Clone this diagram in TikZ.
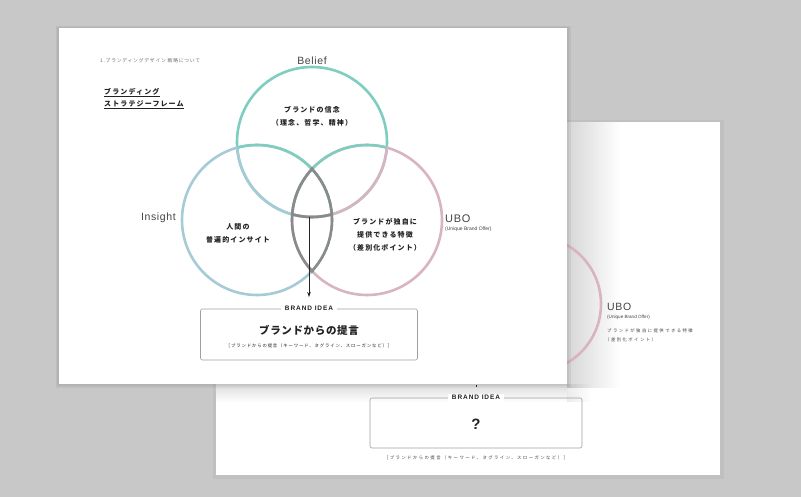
\documentclass[tikz,border=0pt]{standalone}
\usepackage{fontspec}
\setmainfont{Liberation Sans}
\newfontfamily\jpn[LetterSpace=16]{Noto Sans CJK JP}
\newfontfamily\jpt[LetterSpace=6]{Noto Sans CJK JP}
\newfontfamily\jpc[LetterSpace=19]{Noto Sans CJK JP}
\newfontfamily\jpx[LetterSpace=32]{Noto Sans CJK JP}
\newfontfamily\jph[LetterSpace=16]{Noto Sans CJK JP}
\newfontfamily\latsp[LetterSpace=14]{Liberation Sans}
\newfontfamily\latw[LetterSpace=6]{Liberation Sans}
\usetikzlibrary{arrows.meta,fadings}
\tikzfading[name=fadeoutright, left color=transparent!0, right color=transparent!100]
\definecolor{bgc}{HTML}{C8C8C8}
\definecolor{tealc}{HTML}{7FCDBF}
\definecolor{bluec}{HTML}{A6CBD6}
\definecolor{pinkc}{HTML}{D8B4C2}
\definecolor{lensc}{HTML}{8A8A8A}
\definecolor{txt}{HTML}{222222}
\definecolor{lab}{HTML}{444444}
\tikzset{
  ring/.style={line width=2.6pt},
  jlab/.style={inner sep=0pt, text=txt, font=\jpn\bfseries\fontsize{7}{8}\selectfont},
  latlab/.style={inner sep=0pt, text=lab, font=\latw\fontsize{10.5}{12}\selectfont},
  smalllat/.style={inner sep=0pt, text=lab, font=\fontsize{5}{6}\selectfont},
  ideabox/.style={draw=gray!75, line width=0.6pt, rounded corners=2pt, inner sep=0pt},
  idealabel/.style={fill=white, inner xsep=4pt, inner ysep=1pt, text=txt, font=\latsp\bfseries\fontsize{6.5}{7}\selectfont},
  caption/.style={inner sep=0pt, text=txt, font=\jpc\fontsize{4.4}{5}\selectfont},
}
\begin{document}
\begin{tikzpicture}[x=1pt,y=-1pt]
\useasboundingbox (0,0) rectangle (801,497);
\fill[bgc] (0,0) rectangle (801,497);
% ---------- back page ----------
\fill[black,opacity=0.04] (213,120) rectangle (724,479);
\fill[white] (216,122) rectangle (720,475);
\shade[top color=black!14, bottom color=white] (216,384) rectangle (567,402);
\fill[black, fill opacity=0.08, path fading=fadeoutright] (567,384) rectangle (592,402);
\fill[black, fill opacity=0.16, path fading=fadeoutright] (567,122) rectangle (620,388);
\begin{scope}
  \clip (216,122) rectangle (720,475);
  \draw[ring, pinkc] (533,304) circle[radius=68pt];
\end{scope}
\node[latlab, anchor=west] (bubo) at (607,307) {UBO};
\node[smalllat, anchor=west, font=\fontsize{4.6}{5}\selectfont] (bubosub) at (607,317) {(Unique Brand Offer)};
\node[inner sep=0pt, anchor=west, text=lab, font=\jpx\fontsize{4.4}{5}\selectfont] (bubo1) at (607,331) {ブランドが独自に提供できる特徴};
\node[inner sep=0pt, anchor=west, text=lab, font=\jpx\fontsize{4.4}{5}\selectfont] (bubo2) at (605,340) {（差別化ポイント）};
\coordinate (bdot1) at (476,384.5);
\coordinate (bdot2) at (476,387);
\draw[line width=0.8pt, txt] (bdot1) -- (bdot2);
\node[ideabox, minimum width=212pt, minimum height=50pt] (bbox) at (476,423) {};
\node[idealabel] (blabel) at (bbox.north) {BRAND IDEA};
\node[inner sep=0pt, text=txt, font=\bfseries\fontsize{15}{16}\selectfont] (bq) at (476,424) {?};
\node[inner sep=0pt, text=lab, font=\jpx\fontsize{4.4}{5}\selectfont] (bcap) at (476,458) {［ブランドからの提言（キーワード、タグライン、スローガンなど）］};
% ---------- front page ----------
\fill[black,opacity=0.05] (56,26) rectangle (571,388);
\fill[black,opacity=0.05] (57,27) rectangle (569,386);
\fill[white] (59,28) rectangle (567,384);
\node[inner sep=0pt, anchor=west, text=gray!85!black, font=\jph\fontsize{4.8}{5}\selectfont] (head) at (100,61) {1.ブランディングデザイン 戦略について};
\node[inner sep=0pt, anchor=west, text=txt, font=\jpn\bfseries\fontsize{7}{8}\selectfont] (t1) at (104,92) {ブランディング};
\node[inner sep=0pt, anchor=west, text=txt, font=\jpn\bfseries\fontsize{7}{8}\selectfont] (t2) at (104,104) {ストラテジーフレーム};
\draw[txt, line width=0.6pt] ([yshift=-1pt]t1.south west) -- ([yshift=-1pt]t1.south east);
\draw[txt, line width=0.6pt] ([yshift=-1pt]t2.south west) -- ([yshift=-1pt]t2.south east);
% circles
\coordinate (B) at (312,142);
\coordinate (I) at (257,220);
\coordinate (U) at (367,220);
\def\R{75pt}
\def\Rp{76.6pt}
\draw[ring, tealc] (B) circle[radius=\R];
\draw[ring, bluec] (I) circle[radius=\R];
\draw[ring, pinkc] (U) circle[radius=\R];
\begin{scope}
  \clip (B) circle[radius=\R];
  \draw[ring, tealc] (I) circle[radius=\R];
  \draw[ring, tealc] (U) circle[radius=\R];
\end{scope}
\begin{scope}
  \clip (I) circle[radius=\R];
  \draw[ring, bluec] (B) circle[radius=\R];
\end{scope}
\begin{scope}
  \clip (U) circle[radius=\R];
  \draw[ring, pinkc] (B) circle[radius=\R];
\end{scope}
\begin{scope}
  \clip (I) circle[radius=\Rp];
  \clip (U) circle[radius=\Rp];
  \draw[ring, lensc] (I) circle[radius=\R];
  \draw[ring, lensc] (U) circle[radius=\R];
\end{scope}
\begin{scope}
  \clip (I) circle[radius=\R];
  \clip (U) circle[radius=\R];
  \draw[ring, lensc] (B) circle[radius=\R];
\end{scope}
% labels
\node[latlab] (belief) at (312,61) {Belief};
\node[latlab, anchor=east] (insight) at (176,218) {Insight};
\node[latlab, anchor=west, font=\latw\fontsize{11}{12}\selectfont] (ubo) at (445,219) {UBO};
\node[smalllat, anchor=west] (ubosub) at (445,229) {(Unique Brand Offer)};
\node[jlab] (b1) at (312,110) {ブランドの信念};
\node[jlab] (b2) at (312,123) {（理念、哲学、精神）};
\node[jlab] (i1) at (238,227) {人間の};
\node[jlab] (i2) at (238,240) {普遍的インサイト};
\node[jlab] (u1) at (385,222) {ブランドが独自に};
\node[jlab] (u2) at (385,235) {提供できる特徴};
\node[jlab] (u3) at (385,248) {（差別化ポイント）};
% arrow and box
\coordinate (a1) at (309,217);
\coordinate (a2) at (309,297);
\draw[line width=0.7pt, txt, -{Stealth[length=5pt,width=3.5pt]}] (a1) -- (a2);
\node[ideabox, minimum width=217pt, minimum height=51pt] (box) at (309,334.5) {};
\node[idealabel] (label) at (box.north) {BRAND IDEA};
\node[inner sep=0pt, text=txt, font=\jpt\bfseries\fontsize{10.5}{12}\selectfont] (title) at (309,330) {ブランドからの提言};
\node[caption] (cap) at (309,346) {［ブランドからの提言（キーワード、タグライン、スローガンなど）］};
\end{tikzpicture}
\end{document}
